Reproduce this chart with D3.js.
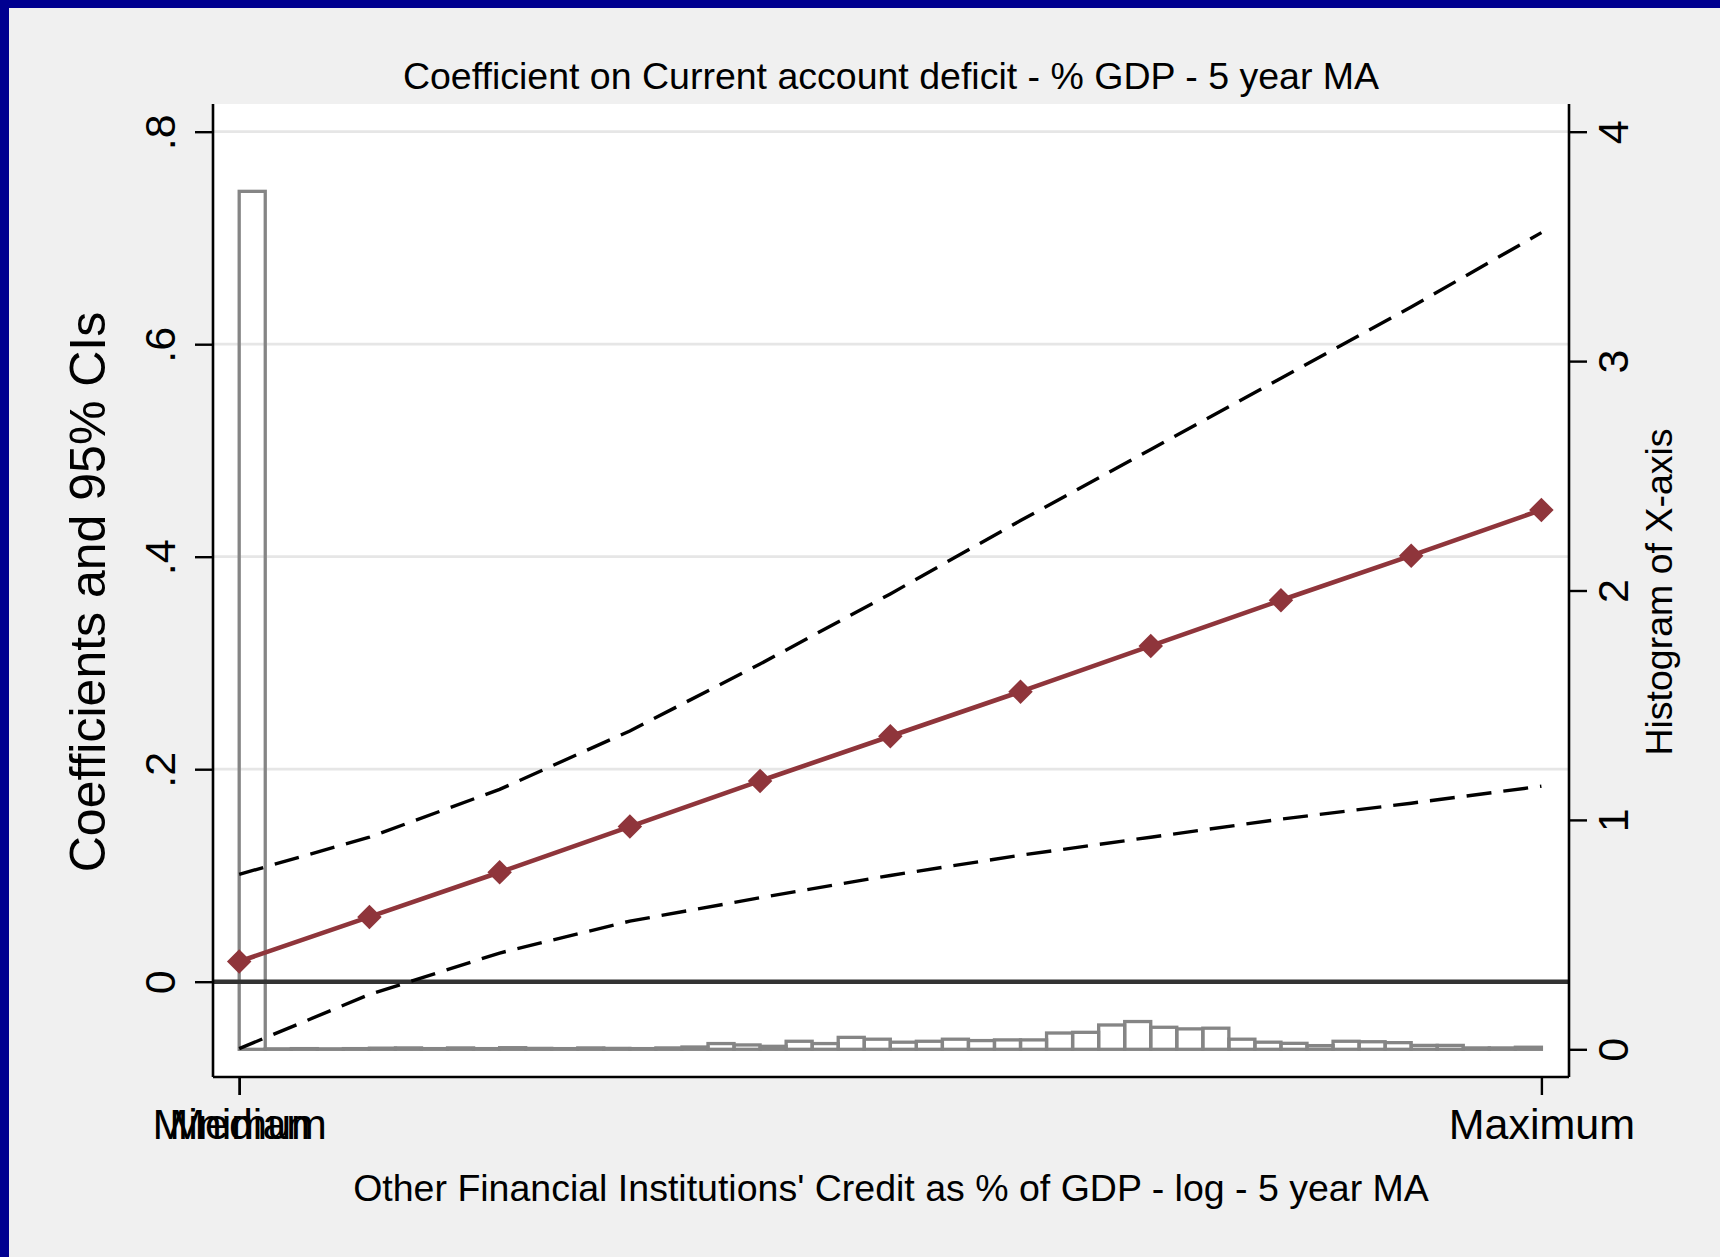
<!DOCTYPE html>
<html>
<head>
<meta charset="utf-8">
<script src="https://cdn.jsdelivr.net/npm/d3@7"></script>
<style>
  body { margin: 0; background: #f0f0f0; }
  svg { display: block; }
  text { font-family: "Liberation Sans", Arial, Helvetica, sans-serif; fill: #000; }
</style>
</head>
<body>
<div id="chart"></div>
<script>
// evaluation points along the x variable (Minimum .. Maximum)
const steps = [0, 1, 2, 3, 4, 5, 6, 7, 8, 9, 10];
const coef = [0.019, 0.061, 0.103, 0.146, 0.189, 0.231, 0.273, 0.316, 0.359, 0.401, 0.444];
const upperCI = [0.101, 0.136, 0.181, 0.236, 0.299, 0.365, 0.434, 0.501, 0.568, 0.635, 0.705];
const lowerCI = [-0.063, -0.012, 0.027, 0.057, 0.079, 0.100, 0.119, 0.136, 0.153, 0.168, 0.184];

// histogram of the x variable, 50 bins between Minimum and Maximum
const histDensity = [
  3.74,
  0.002, 0.003, 0.002, 0.003, 0.005, 0.006, 0.003, 0.006, 0.003, 0.007,
  0.004, 0.003, 0.006, 0.004, 0.003, 0.006, 0.010,
  0.025, 0.019, 0.013, 0.035, 0.025, 0.052, 0.044, 0.031, 0.035, 0.044,
  0.038, 0.041, 0.041, 0.071, 0.074, 0.106, 0.121, 0.096, 0.089, 0.092,
  0.044, 0.031, 0.026, 0.016, 0.035, 0.033, 0.029, 0.017, 0.017, 0.006,
  0.006, 0.009
];

const leftTicks = [0, 0.2, 0.4, 0.6, 0.8];
const leftTickLabels = ['0', '.2', '.4', '.6', '.8'];
const rightTicks = [0, 1, 2, 3, 4];
const xTickValues = [0, 0, 10];
const xTickLabels = ['Minimum', 'Median', 'Maximum'];

const W = 1720, H = 1257;
const frame = { left: 213, right: 1569, top: 104, bottom: 1077 };

const svg = d3.select('#chart').append('svg')
  .attr('width', W)
  .attr('height', H);

// outer background with the dark blue edge on top/left
svg.append('rect').attr('width', W).attr('height', H).attr('fill', '#000090');
svg.append('rect').attr('x', 9).attr('y', 8).attr('width', W).attr('height', H).attr('fill', '#f0f0f0');

svg.append('rect')
  .attr('x', frame.left).attr('y', frame.top)
  .attr('width', frame.right - frame.left)
  .attr('height', frame.bottom - frame.top)
  .attr('fill', '#fff');

const x = d3.scaleLinear().domain([0, 10]).range([239.2, 1541.4]);
const yL = d3.scaleLinear().domain([0, 0.8]).range([981.7, 131.7]);
const yR = d3.scaleLinear().domain([0, 4]).range([1049.3, 131.7]);

// gridlines
svg.append('g')
  .selectAll('line')
  .data(leftTicks.filter(d => d !== 0))
  .enter().append('line')
  .attr('x1', frame.left).attr('x2', frame.right)
  .attr('y1', d => yL(d)).attr('y2', d => yL(d))
  .attr('stroke', '#e6e6e6')
  .attr('stroke-width', 2.7);

// histogram
const binW = 10 / histDensity.length;
svg.append('g')
  .selectAll('rect')
  .data(histDensity)
  .enter().append('rect')
  .attr('x', (d, i) => x(i * binW))
  .attr('width', x(binW) - x(0))
  .attr('y', d => yR(d))
  .attr('height', d => yR(0) - yR(d))
  .attr('fill', 'none')
  .attr('stroke', '#858585')
  .attr('stroke-width', 3.3);

// zero line
svg.append('line')
  .attr('x1', frame.left).attr('x2', frame.right)
  .attr('y1', yL(0)).attr('y2', yL(0))
  .attr('stroke', '#333')
  .attr('stroke-width', 4.5);

const ciLine = vals => d3.line()
  .x((d, i) => x(steps[i]))
  .y(d => yL(d))(vals);

[upperCI, lowerCI].forEach(ci => {
  svg.append('path')
    .attr('d', ciLine(ci))
    .attr('fill', 'none')
    .attr('stroke', '#000')
    .attr('stroke-width', 3.4)
    .attr('stroke-dasharray', '25 12');
});

svg.append('path')
  .attr('d', ciLine(coef))
  .attr('fill', 'none')
  .attr('stroke', '#8f353b')
  .attr('stroke-width', 4.6);

svg.selectAll('.coef-dot')
  .data(coef)
  .enter().append('path')
  .attr('class', 'coef-dot')
  .attr('transform', (d, i) => `translate(${x(steps[i])},${yL(d)}) rotate(45)`)
  .attr('d', d3.symbol(d3.symbolSquare, 300))
  .attr('fill', '#8f353b');

// frame lines
const frameLines = [
  [frame.left, frame.top, frame.left, frame.bottom],
  [frame.right, frame.top, frame.right, frame.bottom],
  [frame.left, frame.bottom, frame.right, frame.bottom]
];
svg.append('g').selectAll('line')
  .data(frameLines)
  .enter().append('line')
  .attr('x1', d => d[0]).attr('y1', d => d[1])
  .attr('x2', d => d[2]).attr('y2', d => d[3])
  .attr('stroke', '#000')
  .attr('stroke-width', 2.6);

// axes
const styleAxis = g => {
  g.select('.domain').remove();
  g.selectAll('.tick line').attr('stroke', '#000').attr('stroke-width', 2.4);
  g.selectAll('.tick text').attr('font-size', 43).attr('fill', '#000');
};

svg.append('g')
  .attr('transform', `translate(${frame.left},0)`)
  .call(d3.axisLeft(yL).tickValues(leftTicks).tickFormat((d, i) => leftTickLabels[i]).tickSize(18))
  .call(styleAxis)
  .call(g => g.selectAll('.tick text')
    .attr('x', null).attr('dy', null)
    .attr('text-anchor', 'middle')
    .attr('transform', 'translate(-38,0) rotate(-90)'));

svg.append('g')
  .attr('transform', `translate(${frame.right},0)`)
  .call(d3.axisRight(yR).tickValues(rightTicks).tickFormat(d3.format('d')).tickSize(18))
  .call(styleAxis)
  .call(g => g.selectAll('.tick text')
    .attr('x', null).attr('dy', null)
    .attr('text-anchor', 'middle')
    .attr('transform', 'translate(59,0) rotate(-90)'));

svg.append('g')
  .attr('transform', `translate(0,${frame.bottom})`)
  .call(d3.axisBottom(x).tickValues(xTickValues).tickFormat((d, i) => xTickLabels[i]).tickSize(18))
  .call(styleAxis)
  .call(g => g.selectAll('.tick text')
    .attr('y', 62).attr('dy', null)
    .attr('text-anchor', 'middle'));

// titles
svg.append('text')
  .attr('x', 891).attr('y', 89)
  .attr('text-anchor', 'middle')
  .attr('font-size', 37.5)
  .text('Coefficient on Current account deficit - % GDP - 5 year MA');

svg.append('text')
  .attr('x', 891).attr('y', 1201)
  .attr('text-anchor', 'middle')
  .attr('font-size', 37.5)
  .text("Other Financial Institutions' Credit as % of GDP - log - 5 year MA");

svg.append('text')
  .attr('transform', 'translate(105,592) rotate(-90)')
  .attr('text-anchor', 'middle')
  .attr('font-size', 50)
  .text('Coefficients and 95% CIs');

svg.append('text')
  .attr('transform', 'translate(1672,592) rotate(-90)')
  .attr('text-anchor', 'middle')
  .attr('font-size', 37.5)
  .text('Histogram of X-axis');
</script>
</body>
</html>
